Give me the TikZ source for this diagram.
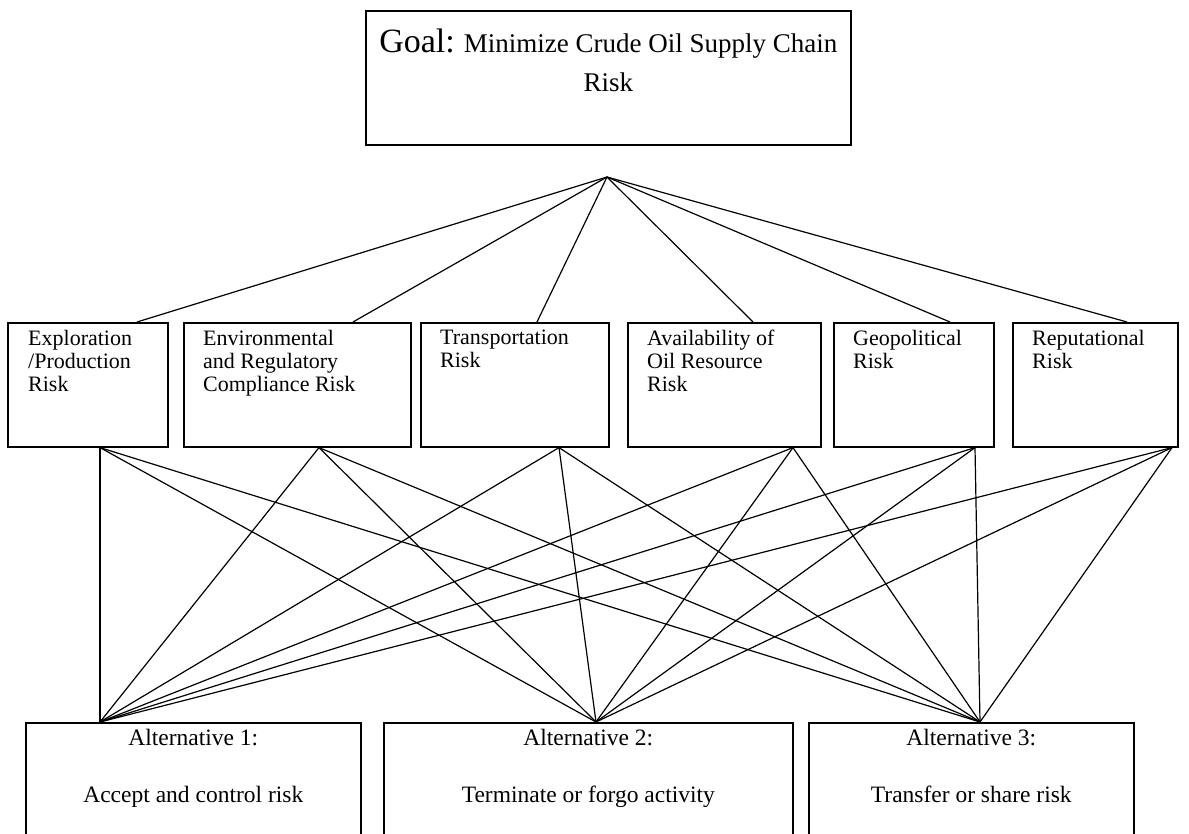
\documentclass[tikz,border=0pt]{standalone}
\usepackage{fontspec}
\setmainfont{Liberation Serif}
\usepackage{tikz}
\usetikzlibrary{shapes, arrows}
\tikzstyle{block} = [draw, rectangle, anchor=north west, inner sep=0pt]
\tikzstyle{input} = [coordinate]

\begin{document}
\begin{tikzpicture}[x=1pt, y=-1pt]
    % 样式
    \tikzstyle{block} = [draw, rectangle, anchor=north west, inner sep=0pt, line width=1.6pt]
    \tikzstyle{crit} = [anchor=north west, inner sep=0pt, align=left, font=\fontsize{22}{23}\selectfont]
    \tikzstyle{alt} = [anchor=north, inner sep=0pt, align=center, font=\fontsize{23.5}{57}\selectfont]
    \tikzstyle{link} = [line width=1.2pt]
    \useasboundingbox (0,0) rectangle (1189,834);

    % 目标层
    \node [block, minimum width=485pt, minimum height=134pt] (goal) at (365,10) {};
    \node [anchor=north, inner sep=0pt, align=center, font=\fontsize{27}{39}\selectfont] (goal-t) at ([yshift=-19pt]goal.north) {{\fontsize{34}{39}\selectfont Goal:} Minimize Crude Oil Supply Chain\\Risk};
    \node [input] (top) at (607,177) {};

    % 准则层
    \node [block, minimum width=160pt, minimum height=124pt] (c1) at (7,322) {};
    \node [block, minimum width=227pt, minimum height=124pt] (c2) at (183,322) {};
    \node [block, minimum width=188pt, minimum height=124pt] (c3) at (420,322) {};
    \node [block, minimum width=193pt, minimum height=124pt] (c4) at (627,322) {};
    \node [block, minimum width=160pt, minimum height=124pt] (c5) at (833,322) {};
    \node [block, minimum width=165pt, minimum height=124pt] (c6) at (1012,322) {};
    \node [crit] (c1-t) at ([xshift=21pt,yshift=-8pt]c1.north west) {Exploration\\/Production\\Risk};
    \node [crit] (c2-t) at ([xshift=20pt,yshift=-8pt]c2.north west) {Environmental\\and Regulatory\\Compliance Risk};
    \node [crit] (c3-t) at ([xshift=20pt,yshift=-8pt]c3.north west) {Transportation\\Risk};
    \node [crit] (c4-t) at ([xshift=20pt,yshift=-8pt]c4.north west) {Availability of\\Oil Resource\\Risk};
    \node [crit] (c5-t) at ([xshift=20pt,yshift=-8pt]c5.north west) {Geopolitical\\Risk};
    \node [crit] (c6-t) at ([xshift=20pt,yshift=-8pt]c6.north west) {Reputational\\Risk};

    % 方案层
    \node [block, minimum width=335pt, minimum height=150pt] (a1) at (25,722) {};
    \node [block, minimum width=409pt, minimum height=150pt] (a2) at (383,722) {};
    \node [block, minimum width=325pt, minimum height=150pt] (a3) at (808,722) {};
    \node [alt] (a1-t) at ([yshift=-7pt]a1.north) {Alternative 1:\\Accept and control risk};
    \node [alt] (a2-t) at ([yshift=-7pt]a2.north) {Alternative 2:\\Terminate or forgo activity};
    \node [alt] (a3-t) at ([yshift=-7pt]a3.north) {Alternative 3:\\Transfer or share risk};

    % 目标 -> 准则
    \draw [link] (top) -- ([xshift=130pt]c1.north west);
    \draw [link] (top) -- ([xshift=170pt]c2.north west);
    \draw [link] (top) -- ([xshift=117pt]c3.north west);
    \draw [link] (top) -- ([xshift=126pt]c4.north west);
    \draw [link] (top) -- ([xshift=117pt]c5.north west);
    \draw [link] (top) -- ([xshift=115pt]c6.north west);

    % 准则 -> 方案
    \draw [link] ([xshift=93pt]c1.south west) -- ([xshift=75pt]a1.north west);
    \draw [link] ([xshift=93pt]c1.south west) -- ([xshift=213pt]a2.north west);
    \draw [link] ([xshift=93pt]c1.south west) -- ([xshift=172pt]a3.north west);
    \draw [link] ([xshift=136pt]c2.south west) -- ([xshift=75pt]a1.north west);
    \draw [link] ([xshift=136pt]c2.south west) -- ([xshift=213pt]a2.north west);
    \draw [link] ([xshift=136pt]c2.south west) -- ([xshift=172pt]a3.north west);
    \draw [link] ([xshift=139pt]c3.south west) -- ([xshift=75pt]a1.north west);
    \draw [link] ([xshift=139pt]c3.south west) -- ([xshift=213pt]a2.north west);
    \draw [link] ([xshift=139pt]c3.south west) -- ([xshift=172pt]a3.north west);
    \draw [link] ([xshift=166pt]c4.south west) -- ([xshift=75pt]a1.north west);
    \draw [link] ([xshift=166pt]c4.south west) -- ([xshift=213pt]a2.north west);
    \draw [link] ([xshift=166pt]c4.south west) -- ([xshift=172pt]a3.north west);
    \draw [link] ([xshift=142pt]c5.south west) -- ([xshift=75pt]a1.north west);
    \draw [link] ([xshift=142pt]c5.south west) -- ([xshift=213pt]a2.north west);
    \draw [link] ([xshift=142pt]c5.south west) -- ([xshift=172pt]a3.north west);
    \draw [link] ([xshift=160pt]c6.south west) -- ([xshift=75pt]a1.north west);
    \draw [link] ([xshift=160pt]c6.south west) -- ([xshift=213pt]a2.north west);
    \draw [link] ([xshift=160pt]c6.south west) -- ([xshift=172pt]a3.north west);
\end{tikzpicture}
\end{document}
